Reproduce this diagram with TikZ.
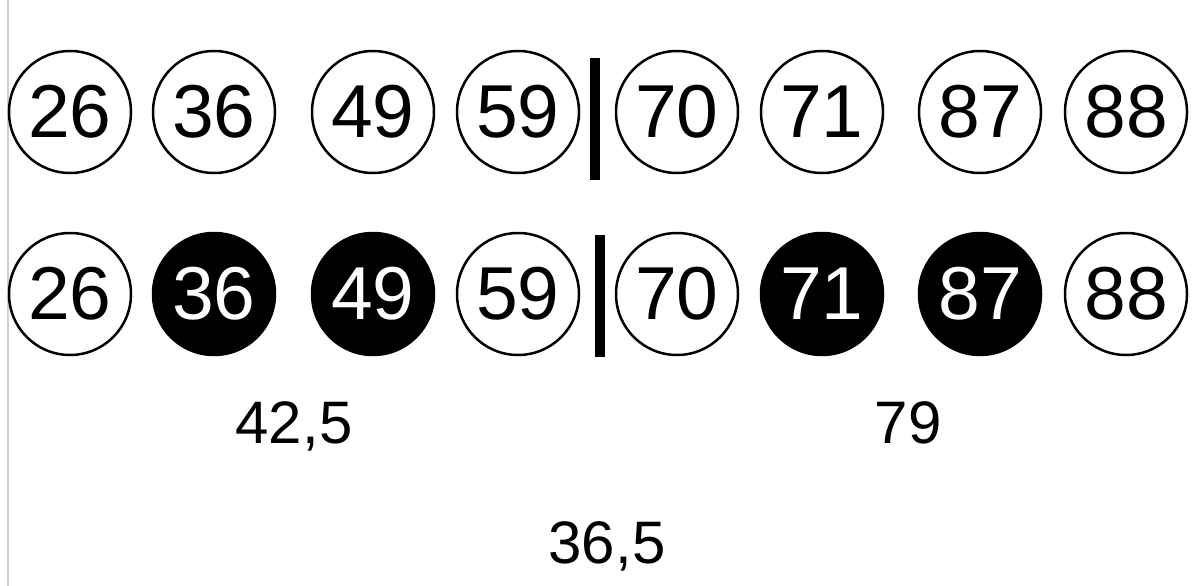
\documentclass[tikz,border=0pt]{standalone}
\usepackage{fontspec}
\setmainfont{Liberation Sans}
\begin{document}
\begin{tikzpicture}[x=1pt,y=-1pt]
\tikzset{
  ball/.style={circle,draw=black,line width=2.5pt,minimum size=122pt,inner sep=0pt,font=\fontsize{75}{80}\selectfont},
  lightball/.style={ball,fill=white,text=black},
  darkball/.style={ball,fill=black,text=white},
  divider/.style={fill=black,inner sep=0pt,minimum width=10pt,minimum height=122pt},
  val/.style={anchor=base,inner sep=0pt,font=\fontsize{60}{70}\selectfont},
  edgeline/.style={draw=black!18,line width=1.5pt}
}
\useasboundingbox (0,0) rectangle (1199,586);
\coordinate (et) at (8,0);
\coordinate (eb) at (8,586);
\draw[edgeline] (et) -- (eb);
% row 1
\node[lightball] (a1) at (70,112) {26};
\node[lightball] (a2) at (214,112) {36};
\node[lightball] (a3) at (373,112) {49};
\node[lightball] (a4) at (518,112) {59};
\node[divider] (d1) at (595,119) {};
\node[lightball] (a5) at (677,112) {70};
\node[lightball] (a6) at (822,112) {71};
\node[lightball] (a7) at (980,112) {87};
\node[lightball] (a8) at (1126,112) {88};
% row 2
\node[lightball] (b1) at (70,294) {26};
\node[darkball] (b2) at (214,294) {36};
\node[darkball] (b3) at (373,294) {49};
\node[lightball] (b4) at (518,294) {59};
\node[divider] (d2) at (599.5,296) {};
\node[lightball] (b5) at (677,294) {70};
\node[darkball] (b6) at (822,294) {71};
\node[darkball] (b7) at (980,294) {87};
\node[lightball] (b8) at (1126,294) {88};
% values
\node[val] (m1) at (294,443) {42,5};
\node[val] (m2) at (908,443) {79};
\node[val] (m3) at (607,563) {36,5};
\end{tikzpicture}
\end{document}
